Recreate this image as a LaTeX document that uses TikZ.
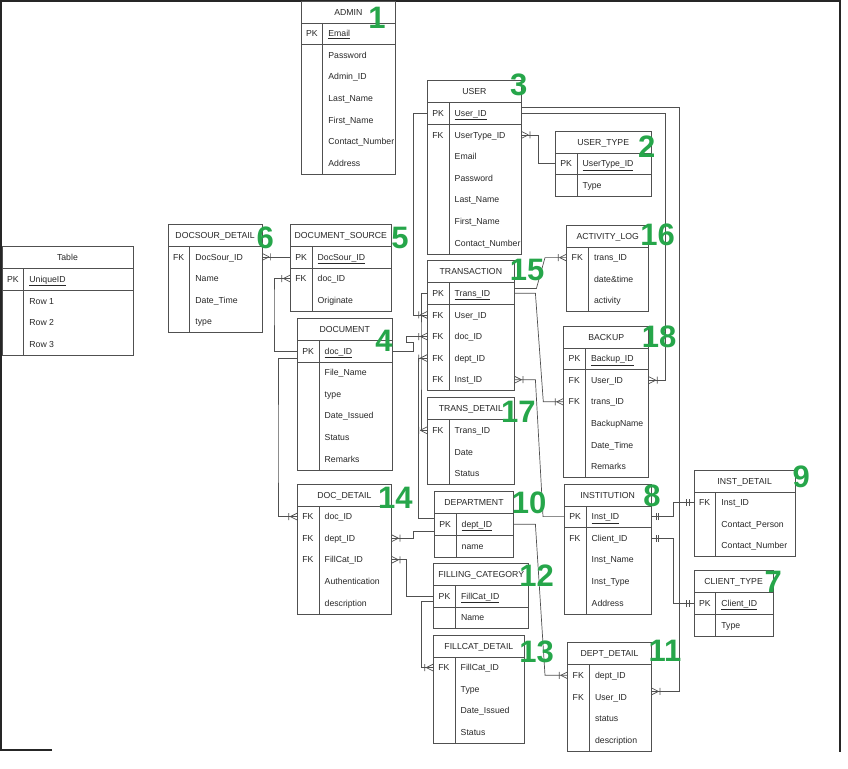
\documentclass[tikz,border=0pt]{standalone}
\usepackage{fontspec}
\setmainfont{Liberation Sans}
\usetikzlibrary{calc,decorations.markings}

\definecolor{numgreen}{RGB}{38,166,74}
\definecolor{boxgray}{RGB}{80,80,80}
\definecolor{textgray}{RGB}{40,40,40}

\tikzset{
  headcell/.style={anchor=north west, minimum height=21.6pt, inner sep=0pt, text height=6.2pt, text depth=0pt},
  rowcell/.style={anchor=north west, minimum height=21.6pt, inner sep=0pt},
  celltext/.style={anchor=west, inner sep=0pt, text height=6.2pt, text depth=0pt},
  tabline/.style={draw=boxgray, line width=0.8pt},
  rel/.style={draw=boxgray, line width=0.7pt},
  many/.style={postaction={decorate}, decoration={markings, mark=at position 1 with {\draw[rel] (-7pt,0pt) -- (0pt,3.5pt) (-7pt,0pt) -- (0pt,-3.5pt) (-8.5pt,-3.5pt) -- (-8.5pt,3.5pt);}}},
  oneone/.style={postaction={decorate}, decoration={markings,
      mark=at position 0 with {\draw[rel] (5pt,-3.5pt) -- (5pt,3.5pt) (7.5pt,-3.5pt) -- (7.5pt,3.5pt);},
      mark=at position 1 with {\draw[rel] (-5pt,-3.5pt) -- (-5pt,3.5pt) (-7.5pt,-3.5pt) -- (-7.5pt,3.5pt);}}},
  num/.style={text=numgreen, font=\fontsize{31}{31}\selectfont\bfseries, inner sep=0pt}
}

\def\pkmark{PK}
% #1 name, #2 x, #3 y, #4 width, #5 title, #6 rows key/field
\newcommand{\ertable}[6]{%
  \node[headcell, minimum width=#4pt] (#1) at (#2,#3) {#5};
  \foreach [count=\i] \kind/\field in {#6} {
    \node[rowcell, minimum width=#4pt] (#1-\i) at (#2,{#3+21.6*\i}) {};
    \node[celltext] at ([xshift=4.8pt]#1-\i.west) {\kind};
    \ifx\kind\pkmark
      \node[celltext] at ([xshift=27.2pt]#1-\i.west) {\underline{\field}};
      \draw[tabline] (#1-\i.south west) -- (#1-\i.south east);
    \else
      \node[celltext] at ([xshift=27.2pt]#1-\i.west) {\field};
    \fi
    \xdef\nrows{\i}
  }
  \draw[tabline] (#1.north west) rectangle (#1-\nrows.south east);
  \draw[tabline] (#1.south west) -- (#1.south east);
  \draw[tabline] ([xshift=21.7pt]#1.south west) -- ([xshift=21.7pt]#1-\nrows.south west);
}

\begin{document}
\begin{tikzpicture}[x=1pt, y=-1pt, font=\fontsize{8.7}{10}\selectfont, text=textgray]
  \useasboundingbox (0,0) rectangle (848,768);
  \fill[white] (0,0) rectangle (848,768);
  \draw[line width=2pt, draw=black!85] (52,750) -- (1,750) -- (1,1) -- (840,1) -- (840,752);

  \ertable{admin}{301}{1}{94.3}{ADMIN}{PK/Email,/Password,/Admin\_ID,/Last\_Name,/First\_Name,/Contact\_Number,/Address}
  \ertable{user}{427.3}{80.7}{93.7}{USER}{PK/User\_ID,FK/UserType\_ID,/Email,/Password,/Last\_Name,/First\_Name,/Contact\_Number}
  \ertable{usertype}{555.3}{131}{95.4}{USER\_TYPE}{PK/UserType\_ID,/Type}
  \ertable{actlog}{566.7}{225}{81.6}{ACTIVITY\_LOG}{FK/trans\_ID,/date\&time,/activity}
  \ertable{trans}{427.3}{260.7}{86.7}{TRANSACTION}{PK/Trans\_ID,FK/User\_ID,FK/doc\_ID,FK/dept\_ID,FK/Inst\_ID}
  \ertable{backup}{563.7}{326}{84.6}{BACKUP}{PK/Backup\_ID,FK/User\_ID,FK/trans\_ID,/BackupName,/Date\_Time,/Remarks}
  \ertable{transdet}{427.3}{397.7}{86.7}{TRANS\_DETAIL}{FK/Trans\_ID,/Date,/Status}
  \ertable{doc}{297.3}{318.3}{94.4}{DOCUMENT}{PK/doc\_ID,/File\_Name,/type,/Date\_Issued,/Status,/Remarks}
  \ertable{docsrc}{290.3}{224.3}{100.7}{DOCUMENT\_SOURCE}{PK/DocSour\_ID,FK/doc\_ID,/Originate}
  \ertable{docsrcdet}{168}{224.3}{93.7}{DOCSOUR\_DETAIL}{FK/DocSour\_ID,/Name,/Date\_Time,/type}
  \ertable{table}{2}{246.7}{130.5}{Table}{PK/UniqueID,/Row 1,/Row 2,/Row 3}
  \ertable{docdet}{297.3}{484}{93.7}{DOC\_DETAIL}{FK/doc\_ID,FK/dept\_ID,FK/FillCat\_ID,/Authentication,/description}
  \ertable{dept}{434.3}{491.7}{79}{DEPARTMENT}{PK/dept\_ID,/name}
  \ertable{fillcat}{433.7}{563.3}{94.6}{FILLING\_CATEGORY}{PK/FillCat\_ID,/Name}
  \ertable{fillcatdet}{433.3}{635}{90.7}{FILLCAT\_DETAIL}{FK/FillCat\_ID,/Type,/Date\_Issued,/Status}
  \ertable{deptdet}{567.7}{642.7}{83.3}{DEPT\_DETAIL}{FK/dept\_ID,FK/User\_ID,/status,/description}
  \ertable{inst}{564.3}{484}{86.4}{INSTITUTION}{PK/Inst\_ID,FK/Client\_ID,/Inst\_Name,/Inst\_Type,/Address}
  \ertable{instdet}{694}{470}{101}{INST\_DETAIL}{FK/Inst\_ID,/Contact\_Person,/Contact\_Number}
  \ertable{client}{694}{570.7}{78.7}{CLIENT\_TYPE}{PK/Client\_ID,/Type}

  \draw[rel, many] (usertype-1.west) -- ++(-17,0) |- (user-2.east);
  \draw[rel, many] ([yshift=5.5pt]user-1.east) -| (679.3,400) |- ([yshift=5.5pt]deptdet-2.east);
  \draw[rel, many] (user-1.east) -| (665,250) |- (backup-2.east);
  \draw[rel, many] (user-1.west) -| (413.3,200) |- (trans-2.west);
  \draw[rel, many] ([yshift=4.8pt]trans-1.east) -- ++(22,0) -- ([xshift=-21.7pt]actlog-1.west) -- (actlog-1.west);
  \draw[rel, many] (trans-1.east) -- ++(21,0) -- ([xshift=-20.4pt]backup-3.west) -- (backup-3.west);
  \draw[rel, many] (trans-1.west) -| (421,350) |- (transdet-1.west);
  \draw[rel, many] ([yshift=5.8pt]dept-1.west) -| (418.5,450) |- (trans-4.west);
  \draw[rel, many] (doc-1.east) -- ++(21.6,0) -- ++(0,-8.4) -- ++(-7.3,0) |- (trans-3.west);
  \draw[rel, many] (doc-1.west) -| (274,300) |- (docsrc-2.west);
  \draw[rel, many] ([yshift=-7pt]doc-1.west) -| (278,450) |- (docdet-1.west);
  \draw[rel, many] (docsrc-1.west) -- (docsrcdet-1.east);
  \draw[rel, many] (inst-1.west) -- ++(-21.3,0) -- ([xshift=21pt]trans-5.east) -- (trans-5.east);
  \draw[rel, many] (dept-1.east) -- ++(21.7,0) -- ([xshift=-22.7pt]deptdet-1.west) -- (deptdet-1.west);
  \draw[rel, many] ([yshift=-6.6pt]dept-1.west) -- ++(-21,0) |- (docdet-2.east);
  \draw[rel, many] (fillcat-1.west) -- ++(-27.7,0) |- (docdet-3.east);
  \draw[rel, many] ([yshift=-5.3pt]fillcat-1.west) -- ++(-12.7,0) |- (fillcatdet-1.west);
  \draw[rel, oneone] (inst-1.east) -- ++(22,0) |- (instdet-1.west);
  \draw[rel, oneone] (inst-2.east) -- ++(22.6,0) |- (client-1.west);

  \node[num] (n1) at (377,18) {1};
  \node[num] (n2) at (646.7,146.2) {2};
  \node[num] (n3) at (518.7,85.3) {3};
  \node[num] (n4) at (384,341) {4};
  \node[num] (n5) at (400,237.8) {5};
  \node[num] (n6) at (265.3,237.8) {6};
  \node[num] (n7) at (773.3,581.7) {7};
  \node[num] (n8) at (652,495.8) {8};
  \node[num] (n9) at (801.3,477) {9};
  \node[num] (n10) at (529,502.5) {10};
  \node[num] (n11) at (665,651) {11};
  \node[num] (n12) at (536.7,576) {12};
  \node[num] (n13) at (536.7,652) {13};
  \node[num] (n14) at (395.3,497.5) {14};
  \node[num] (n15) at (527,269.7) {15};
  \node[num] (n16) at (657.5,235) {16};
  \node[num] (n17) at (518.3,411.7) {17};
  \node[num] (n18) at (659,336.7) {18};
\end{tikzpicture}
\end{document}
